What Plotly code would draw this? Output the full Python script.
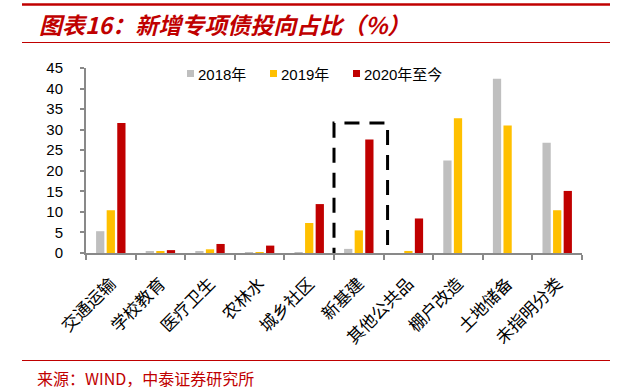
import plotly.graph_objects as go

categories = ["交通运输", "学校教育", "医疗卫生", "农林水", "城乡社区", "新基建",
              "其他公共品", "棚户改造", "土地储备", "未指明分类"]
v2018 = [5.3, 0.3, 0.3, 0.1, 0.1, 1.0, 0.0, 22.5, 42.4, 26.8]
v2019 = [10.4, 0.4, 0.9, 0.2, 7.3, 5.5, 0.5, 32.8, 31.0, 10.4]
v2020 = [31.6, 0.7, 2.2, 1.8, 11.9, 27.6, 8.4, 0.0, 0.0, 15.1]
series_names = ["2018年", "2019年", "2020年至今"]
colors = ["#BFBFBF", "#FFC000", "#C00000"]

W, H = 632, 391
L, R, T, B = 86, 50, 68, 138
pw, ph = W - L - R, H - T - B

def px(x):
    return (x - L) / pw

def py(y):
    return (H - B - y) / ph

cjk = "Liberation Sans, Noto Sans CJK SC, sans-serif"

fig = go.Figure()
for name, vals, c in zip(series_names, [v2018, v2019, v2020], colors):
    fig.add_trace(go.Bar(x=categories, y=vals, name=name, marker_color=c,
                         marker_line_width=0, showlegend=False))

fig.update_layout(
    width=W, height=H,
    margin=dict(l=L, r=R, t=T, b=B),
    paper_bgcolor="white", plot_bgcolor="white",
    barmode="group", bargap=0.36, bargroupgap=0.22,
    font=dict(family=cjk, size=14, color="black"),
    showlegend=False,
    xaxis=dict(type="category", showline=True, linecolor="#898989", linewidth=2,
               ticks="outside", tickson="boundaries", ticklen=5, tickcolor="#898989",
               tickwidth=2, tickangle=-45, showgrid=False, ticklabelstandoff=12,
               automargin=False,
               tickfont=dict(size=17, family="Noto Sans CJK SC")),
    yaxis=dict(range=[0, 45], dtick=5, showline=True, linecolor="#898989", linewidth=2,
               ticks="outside", ticklen=4, tickcolor="#898989", tickwidth=2,
               showgrid=False, zeroline=False, ticklabelstandoff=14, automargin=False,
               tickfont=dict(size=15, family=cjk)),
)

# manual legend
leg_x = [187, 270, 353]
for name, c, lx in zip(series_names, colors, leg_x):
    fig.add_shape(type="rect", xref="paper", yref="paper", x0=px(lx), x1=px(lx + 7),
                  y0=py(77), y1=py(70), fillcolor=c, line_width=0)
    fig.add_annotation(xref="paper", yref="paper", x=px(lx + 9), y=py(74),
                       xanchor="left", yanchor="middle", showarrow=False, text=name,
                       font=dict(size=15, family=cjk, color="black"))

# dashed highlight box around 新基建
fig.add_shape(type="rect", xref="x", yref="y", x0=4.5, x1=5.58, y0=-3.26, y1=31.6,
              line=dict(color="black", width=3, dash="15px,10px"), fillcolor="rgba(0,0,0,0)")

# header / footer rules
fig.add_shape(type="line", xref="paper", yref="paper", x0=px(22), x1=px(610),
              y0=py(4.5), y1=py(4.5), line=dict(color="#C00000", width=2.5))
fig.add_shape(type="line", xref="paper", yref="paper", x0=px(22), x1=px(610),
              y0=py(42.5), y1=py(42.5), line=dict(color="#C00000", width=1))
fig.add_shape(type="line", xref="paper", yref="paper", x0=px(22), x1=px(610),
              y0=py(360.5), y1=py(360.5), line=dict(color="#C00000", width=1))

fig.add_annotation(xref="paper", yref="paper", x=px(37), y=py(24), xanchor="left",
                   yanchor="middle", showarrow=False,
                   text="<b><i>图表16：新增专项债投向占比（%）</i></b>",
                   font=dict(size=23, color="#C00000", family="Noto Sans CJK SC"))
fig.add_annotation(xref="paper", yref="paper", x=px(35), y=py(378), xanchor="left",
                   yanchor="middle", showarrow=False,
                   text="来源：WIND，中泰证券研究所",
                   font=dict(size=16, color="#C00000", family="Noto Sans CJK SC"))

fig.write_html("out.html", config={"displayModeBar": False},
               post_script="document.body.style.margin='0';")
